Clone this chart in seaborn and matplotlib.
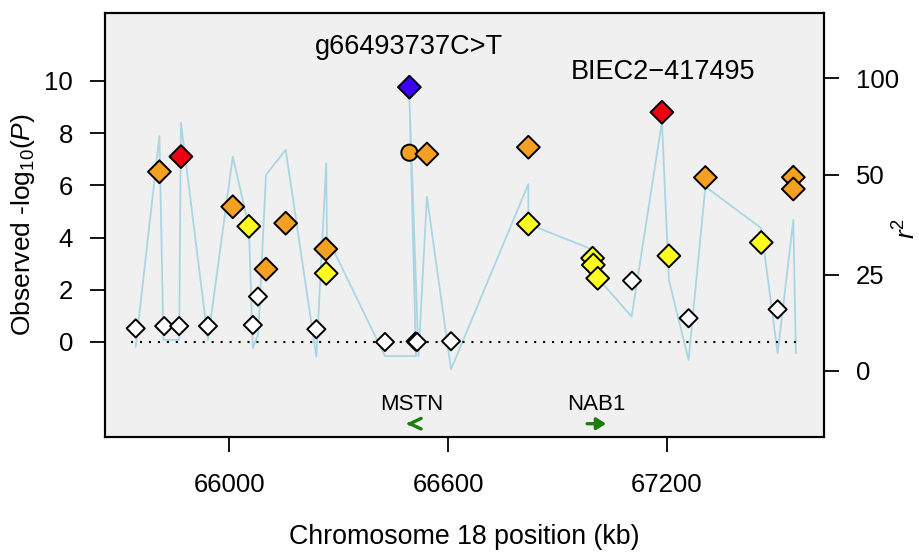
import seaborn as sns
import matplotlib.pyplot as plt
import pandas as pd

# SNP positions (kb), -log10(P) and LD class
snp_kb = [65744, 65809, 65822, 65863, 65868, 65942, 66010, 66054, 66065, 66079,
          66101, 66155, 66239, 66265, 66266, 66427, 66494, 66494, 66511, 66515,
          66542, 66608, 66820, 66820, 66996, 66998, 67010, 67104, 67186, 67205,
          67259, 67305, 67458, 67503, 67546, 67546]
logp = [0.52, 6.52, 0.61, 0.61, 7.10, 0.61, 5.18, 4.43, 0.65, 1.74,
        2.79, 4.55, 0.49, 3.56, 2.63, 0.00, 9.76, 7.25, 0.02, 0.00,
        7.20, 0.03, 7.46, 4.52, 3.21, 2.95, 2.44, 2.35, 8.80, 3.30,
        0.91, 6.30, 3.81, 1.25, 6.31, 5.86]
ld = ['white', 'orange', 'white', 'white', 'red', 'white', 'orange', 'yellow', 'white', 'white',
      'orange', 'orange', 'white', 'orange', 'yellow', 'white', 'lead', 'orange', 'white', 'white',
      'orange', 'white', 'orange', 'yellow', 'yellow', 'yellow', 'yellow', 'white', 'red', 'yellow',
      'white', 'orange', 'yellow', 'white', 'orange', 'orange']
shape = ['diamond'] * len(snp_kb)
shape[17] = 'circle'

# light blue trace
line_kb = [65744, 65809, 65820, 65863, 65868, 65942, 66010, 66054, 66065, 66080,
           66101, 66155, 66239, 66266, 66268, 66427, 66512, 66494, 66519, 66542,
           66608, 66820, 66820, 66994, 67010, 67103, 67186, 67205, 67259, 67305,
           67458, 67503, 67546, 67553]
line_val = [-0.18, 7.89, 0.08, 0.08, 8.40, 0.08, 7.10, 4.42, -0.24, 0.33,
            6.40, 7.36, -0.56, 6.85, 4.03, -0.54, -0.54, 9.39, -0.54, 5.57,
            -1.05, 6.05, 4.52, 3.55, 2.45, 0.97, 8.44, 2.38, -0.69, 5.95,
            4.36, -0.43, 4.67, -0.43]

r2_labels = ['0', '25', '50', '100']
r2_pos = [-1.11, 2.57, 6.40, 10.11]

genes = ['MSTN', 'NAB1']
gene_mid = [66500, 67007]
gene_start = [66497, 66981]
gene_end = [66485, 67033]

snps = pd.DataFrame({'kb': snp_kb, 'logp': logp, 'ld': ld, 'shape': shape})
trace = pd.DataFrame({'kb': line_kb, 'val': line_val})

plt.rcParams['font.family'] = 'Liberation Sans'
plt.rcParams['mathtext.fontset'] = 'custom'
plt.rcParams['mathtext.rm'] = 'Liberation Sans'
plt.rcParams['mathtext.it'] = 'Liberation Sans:italic'

fig = plt.figure(figsize=(9.19, 5.52), dpi=100)
ax = fig.add_axes([0.1143, 0.2083, 0.7823, 0.7681])
ax.set_facecolor('#f0f0f0')

sns.lineplot(data=trace, x='kb', y='val', sort=False, estimator=None,
             color='#a9d6e5', linewidth=1.3, ax=ax, zorder=1)
ax.plot([65731, 67553], [0, 0], color='black', linestyle=(0, (1, 3.3)), linewidth=1.5, zorder=2)

palette = {'white': 'white', 'yellow': '#ffff1f', 'orange': '#f5a023',
           'red': '#ee0012', 'lead': '#3b00f5'}
sizes = {'white': 85, 'yellow': 135, 'orange': 135, 'red': 135, 'lead': 135}
sns.scatterplot(data=snps, x='kb', y='logp', hue='ld', palette=palette,
                style='shape', markers={'diamond': 'D', 'circle': 'o'},
                size='ld', sizes=sizes, edgecolor='black', linewidth=1.4,
                legend=False, ax=ax, zorder=3)

ax.text(66494, 11.3, 'g66493737C>T', ha='center', va='center', fontsize=19.5)
ax.text(67189, 10.34, 'BIEC2\u2212417495', ha='center', va='center', fontsize=19.5)

for name, m, s, e in zip(genes, gene_mid, gene_start, gene_end):
    ax.text(m, -2.38, name, ha='center', va='center', fontsize=16)
    if e < s:
        style = '->,head_length=0.8,head_width=0.38'
    else:
        style = '-|>,head_length=0.55,head_width=0.35'
    ax.annotate('', xy=(e, -3.13), xytext=(s, -3.13),
                arrowprops=dict(arrowstyle=style, color='#1f7a10', lw=2.4,
                                shrinkA=0, shrinkB=0, mutation_scale=10))

ax.set_xlim(65660, 67630)
ax.set_ylim(-3.64, 12.6)
ax.set_xticks([66000, 66600, 67200])
ax.set_yticks([0, 2, 4, 6, 8, 10])
ax.tick_params(axis='both', labelsize=18.5, length=11, width=1.3, direction='out')
ax.tick_params(axis='x', pad=15)
ax.tick_params(axis='y', pad=12)
for sp in ax.spines.values():
    sp.set_linewidth(1.5)

ax.set_xlabel('Chromosome 18 position (kb)', fontsize=19.3, labelpad=19)
ax.set_ylabel('Observed -log$_{\\mathrm{10}}$($\\mathit{P}$)', fontsize=19, labelpad=5)

ax2 = ax.twinx()
ax2.set_ylim(ax.get_ylim())
ax2.set_yticks(r2_pos)
ax2.set_yticklabels(r2_labels)
ax2.tick_params(axis='y', labelsize=18.5, length=11, width=1.3, pad=12)
for sp in ax2.spines.values():
    sp.set_linewidth(1.5)
fig.text(907 / 919, 1 - 228 / 552, '$r^2$', rotation=90, ha='center', va='center', fontsize=19)

fig.savefig('out.png', dpi=100)
